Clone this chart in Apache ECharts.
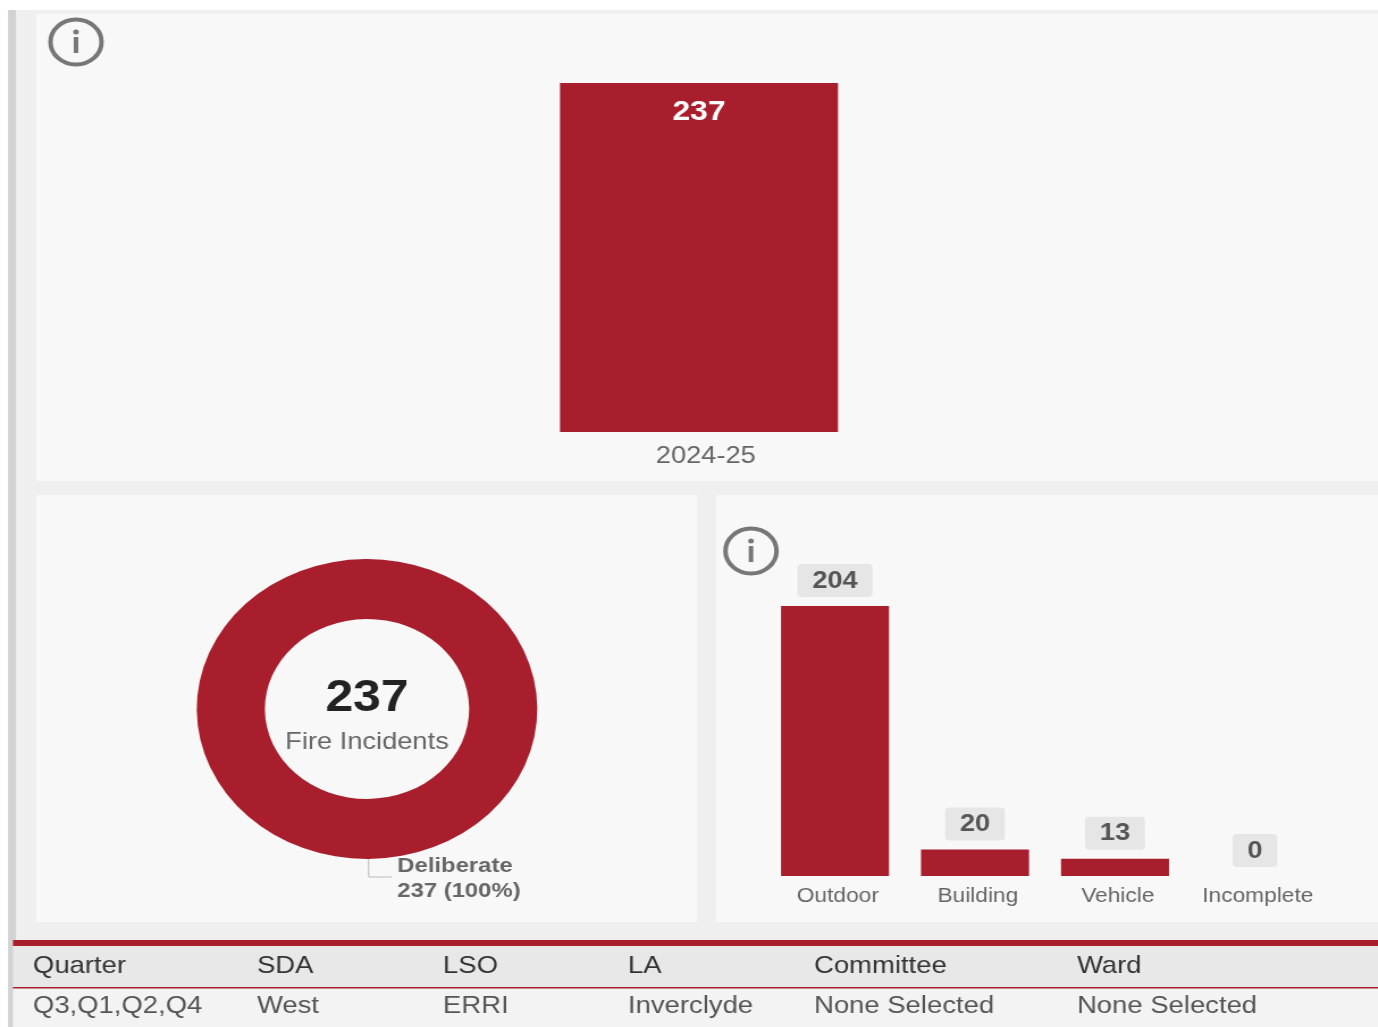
<!DOCTYPE html>
<html>
<head>
<meta charset="utf-8">
<title>Fire Incidents</title>
<script src="https://cdn.jsdelivr.net/npm/echarts@6/dist/echarts.min.js"></script>
<style>
html, body { margin: 0; padding: 0; background: #fff; overflow: hidden; }
/* the reference is a screenshot stretched sideways, so the whole canvas is too */
#main { width: 1214px; height: 1027px; transform: scaleX(1.135); transform-origin: 0 0; }
</style>
</head>
<body>
<div id="main"></div>
<script>
const yearCategories = ['2024-25'];
const yearValues = [237];
const typeCategories = ['Outdoor', 'Building', 'Vehicle', 'Incomplete'];
const typeValues = [204, 20, 13, 0];
const motiveNames = ['Deliberate'];
const motiveValues = [237];
const tableHeaders = ['Quarter', 'SDA', 'LSO', 'LA', 'Committee', 'Ward'];
const tableValues = ['Q3,Q1,Q2,Q4', 'West', 'ERRI', 'Inverclyde', 'None Selected', 'None Selected'];
const tableColumns = [33, 257, 443, 628, 814, 1077];

const RED = '#a81e2c';
const FONT = '"Liberation Sans", Arial, sans-serif';
const sx = function (x) { return x / 1.135; };

function rect(x0, y0, x1, y1, fill) {
	return {
		type: 'rect', z: 0, silent: true,
		shape: { x: sx(x0), y: y0, width: sx(x1 - x0), height: y1 - y0 },
		style: { fill: fill }
	};
}
function label(x, y, text, size, color, weight, align) {
	return {
		type: 'text', z: 10, silent: true, x: sx(x), y: y,
		style: {
			text: text, fill: color, font: (weight || 'normal') + ' ' + size + 'px ' + FONT,
			textAlign: align || 'left', textVerticalAlign: 'middle'
		}
	};
}
function infoIcon(cx, cy) {
	return [{
		type: 'circle', z: 10, silent: true, x: sx(cx), y: cy,
		shape: { r: 22.5 },
		style: { fill: 'none', stroke: '#777', lineWidth: 4 }
	}, {
		type: 'rect', z: 10, silent: true,
		shape: { x: sx(cx) - 2, y: cy - 5, width: 4, height: 16 },
		style: { fill: '#777' }
	}, {
		type: 'circle', z: 10, silent: true, x: sx(cx), y: cy - 10,
		shape: { r: 2.5 },
		style: { fill: '#777' }
	}];
}

let shapes = [
	rect(16, 10, 1378, 1027, '#efefef'),
	rect(8, 10, 16, 1027, '#d2d2d2'),
	rect(36, 14, 1378, 481, '#f8f8f8'),
	rect(36, 495, 697, 922, '#f8f8f8'),
	rect(716, 495, 1378, 922, '#f8f8f8'),
	rect(13, 946, 1378, 987, '#e8e8e8'),
	rect(13, 988, 1378, 1027, '#f3f3f3'),
	rect(13, 940, 1378, 946, RED),
	rect(13, 987, 1378, 988.5, RED),
	label(367, 699, String(motiveValues[0]), 44, '#222', 'bold', 'center'),
	label(367, 742.5, 'Fire Incidents', 24, '#666', 'normal', 'center')
];
shapes = shapes.concat(infoIcon(76, 42), infoIcon(751, 551));
tableHeaders.forEach(function (h, i) {
	shapes.push(label(tableColumns[i], 966, h, 24.2, '#333'));
	shapes.push(label(tableColumns[i], 1006, tableValues[i], 24.2, '#555'));
});

var myChart = echarts.init(document.getElementById('main'));
myChart.setOption({
	animation: false,
	textStyle: { fontFamily: FONT },
	graphic: { elements: shapes },
	grid: [
		{ left: sx(560), width: sx(278), top: 83, height: 349 },
		{ left: sx(765), width: sx(560), top: 606, height: 270 }
	],
	xAxis: [{
		type: 'category', gridIndex: 0, data: yearCategories,
		axisLine: { show: false }, axisTick: { show: false },
		axisLabel: { fontSize: 24, color: '#666', margin: 12, padding: [0, 0, 0, 12] }
	}, {
		type: 'category', gridIndex: 1, data: typeCategories,
		axisLine: { show: false }, axisTick: { show: false },
		axisLabel: { fontSize: 20, color: '#666', margin: 10, padding: [0, 0, 0, 5], interval: 0 }
	}],
	yAxis: [
		{ type: 'value', gridIndex: 0, min: 0, max: 237, show: false },
		{ type: 'value', gridIndex: 1, min: 0, max: 204, show: false }
	],
	series: [{
		type: 'bar', xAxisIndex: 0, yAxisIndex: 0, data: yearValues, barWidth: '100%',
		itemStyle: { color: RED },
		label: {
			show: true, position: 'insideTop', distance: 15,
			fontSize: 28, fontWeight: 'bold', color: '#fff'
		}
	}, {
		type: 'bar', xAxisIndex: 1, yAxisIndex: 1, data: typeValues, barWidth: sx(108),
		itemStyle: { color: RED },
		label: {
			show: true, position: 'top', distance: 9,
			fontSize: 24, fontWeight: 'bold', color: '#555',
			backgroundColor: '#e6e6e6', borderRadius: 4, padding: [5, 13, 4, 13]
		}
	}, {
		type: 'pie', center: [sx(367), 709], radius: [90, 150], startAngle: 90.5,
		data: motiveNames.map(function (n, i) { return { name: n, value: motiveValues[i] }; }),
		itemStyle: { color: RED },
		label: {
			position: 'outside', formatter: '{b}\n{c} ({d}%)',
			fontSize: 21, fontWeight: 'bold', color: '#666', lineHeight: 25
		},
		labelLayout: { dy: 2 },
		labelLine: { length: 18, length2: sx(23), lineStyle: { color: '#bbb', width: 1 } },
		emphasis: { disabled: true }
	}]
});
</script>
</body>
</html>
